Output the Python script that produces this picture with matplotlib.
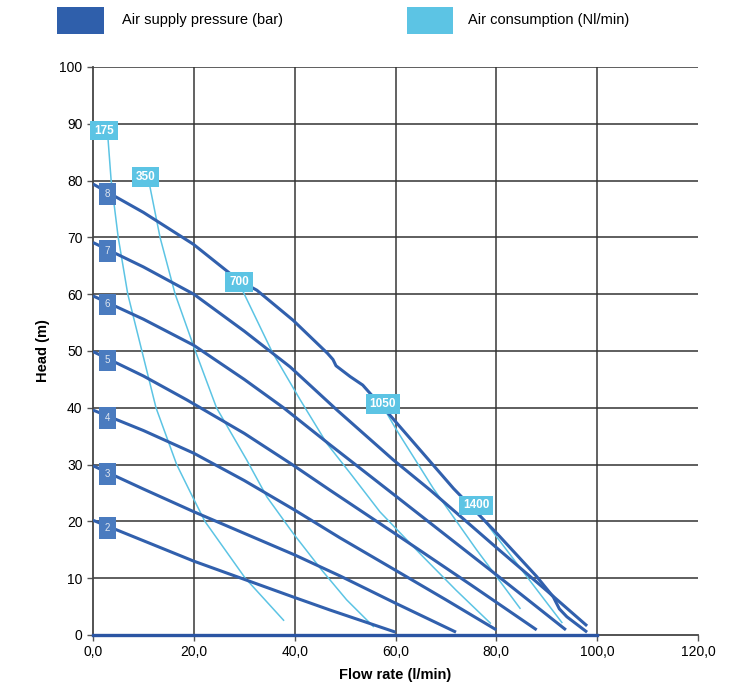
import matplotlib
matplotlib.use("Agg")
import matplotlib.pyplot as plt
import numpy as np
from matplotlib import font_manager
from matplotlib.patches import Rectangle

# pump curves: head (m) vs flow rate (l/min)
pressure_labels = ["2", "3", "4", "5", "6", "7", "8"]
flow_2 = [0, 10, 20, 30, 40, 47, 60]
head_2 = [20.2, 16.6, 13.0, 9.8, 6.6, 4.4, 0.5]
flow_3 = [0, 10, 20, 30, 40, 49, 60, 72]
head_3 = [29.8, 25.7, 21.7, 17.9, 14.1, 10.4, 5.6, 0.5]
flow_4 = [0, 10, 20, 30, 40, 49, 60, 70, 80]
head_4 = [39.6, 36.0, 32.0, 27.2, 22.0, 17.1, 11.4, 6.2, 0.9]
flow_5 = [0, 10, 18.6, 30, 39.7, 47, 60, 75, 88]
head_5 = [49.9, 45.6, 41.4, 35.5, 29.9, 25.5, 17.8, 8.8, 0.9]
flow_6 = [0, 10, 20, 30, 37.8, 47, 60, 80, 93.8]
head_6 = [59.7, 55.6, 51.0, 45.0, 40.0, 33.5, 24.5, 10.6, 0.9]
flow_7 = [0, 10, 20, 30, 39.1, 48.4, 59.6, 66.9, 80, 90, 98]
head_7 = [69.1, 64.8, 60.0, 53.5, 47.2, 39.6, 30.8, 25.5, 15.4, 7.8, 1.6]
flow_8 = [0, 10, 19.9, 28.8, 32.5, 39.7, 46.5, 47.6, 48.2, 51.0, 53.5, 55.0,
          58.9, 71.5, 80.1, 88.0, 91.3, 92.5, 94.0, 98.0]
head_8 = [79.4, 74.4, 68.8, 62.5, 60.7, 55.4, 49.6, 48.5, 47.4, 45.5, 44.0, 42.5,
          38.7, 25.8, 17.9, 10.3, 6.7, 4.6, 3.2, 0.5]

# air consumption iso-lines (Nl/min)
air_labels = ["175", "350", "700", "1050", "1400"]
flow_175 = [3.0, 3.6, 5.0, 6.9, 9.7, 12.5, 16.6, 19.6, 22.2, 26.2, 30.2, 37.8]
head_175 = [87.1, 80.0, 70.0, 60.0, 50.0, 40.0, 30.0, 24.6, 20.0, 15.0, 10.0, 2.6]
flow_350 = [11.3, 13.3, 16.3, 20.3, 24.5, 30.5, 34.5, 39.7, 45.4, 50.3, 55.6]
head_350 = [78.9, 70.0, 60.0, 50.0, 40.0, 30.8, 24.3, 17.9, 11.4, 6.2, 1.5]
flow_700 = [29.8, 35.5, 41.1, 46.4, 51.0, 56.9, 65.0, 72.0, 78.8]
head_700 = [60.4, 49.9, 41.4, 33.7, 28.5, 21.7, 14.2, 7.9, 2.1]
flow_1050 = [58.3, 60.2, 67.5, 76.0, 84.7]
head_1050 = [39.0, 36.1, 25.8, 15.1, 4.7]
flow_1400 = [76.8, 85.0, 93.0]
head_1400 = [21.1, 11.5, 2.2]

flow_zero = [0, 100]
head_zero = [0, 0]

x_ticks = [0, 20, 40, 60, 80, 100, 120]
y_ticks = [0, 10, 20, 30, 40, 50, 60, 70, 80, 90, 100]

DARK = "#3160ad"
DARK_BOX = "#4a7bbf"
LIGHT = "#5cc4e4"

installed = {f.name for f in font_manager.fontManager.ttflist}
narrow = "Liberation Sans Narrow" if "Liberation Sans Narrow" in installed else "Liberation Sans"
plt.rcParams["font.family"] = ["Liberation Sans", "DejaVu Sans"]

fig = plt.figure(figsize=(7.38, 6.87), dpi=100)
ax = fig.add_axes([93 / 738, 1 - 635 / 687, 605 / 738, 568 / 687])

pressure_curves = [(flow_2, head_2), (flow_3, head_3), (flow_4, head_4), (flow_5, head_5),
                   (flow_6, head_6), (flow_7, head_7), (flow_8, head_8)]
air_curves = [(flow_175, head_175), (flow_350, head_350), (flow_700, head_700),
              (flow_1050, head_1050), (flow_1400, head_1400)]

ax.set_xlim(0, 120)
ax.set_ylim(0, 100)
ax.set_xticks(x_ticks)
ax.set_yticks(y_ticks)
ax.set_xticklabels([f"{v:.1f}".replace(".", ",") for v in x_ticks], family=narrow, fontsize=10)
ax.set_yticklabels([str(v) for v in y_ticks], family=narrow, fontsize=10)
ax.tick_params(length=4, color="#555555", width=1)

for v in x_ticks[1:-1]:
    ax.axvline(v, color="#555555", lw=1.3, zorder=1)
for v in y_ticks[1:]:
    ax.axhline(v, color="#333333", lw=1.1, zorder=1)
for s in ["top", "right"]:
    ax.spines[s].set_visible(False)
for s in ["left", "bottom"]:
    ax.spines[s].set_color("#444444")
    ax.spines[s].set_linewidth(1.3)

for fx, hy in air_curves:
    ax.plot(fx, hy, color=LIGHT, lw=1.1, zorder=2)
for fx, hy in pressure_curves:
    ax.plot(fx, hy, color=DARK, lw=2.2, zorder=3, solid_capstyle="butt")
ax.plot(flow_zero, head_zero, color="#2b55a3", lw=2.4, zorder=4, clip_on=False)

# pressure tags sit on each curve near the y axis
for lab, (fx, hy) in zip(pressure_labels, pressure_curves):
    yv = np.interp(2.9, fx, hy)
    ax.text(2.9, yv - 0.3, lab, ha="center", va="center", fontsize=7, color="#dfe6f0",
            family=narrow, zorder=6,
            bbox=dict(boxstyle="square,pad=0.6", fc=DARK_BOX, ec="none"))

# air consumption tags at the top end of each line
for lab, (fx, hy) in zip(air_labels, air_curves):
    ax.annotate(lab, (fx[0], hy[0]), xytext=(-3, 7), textcoords="offset points",
                ha="center", va="center", fontsize=8.5, fontweight="bold", color="white",
                family=narrow, zorder=7,
                bbox=dict(boxstyle="square,pad=0.32", fc=LIGHT, ec="none"))

ax.set_xlabel("Flow rate (l/min)", fontsize=10.5, fontweight="bold", labelpad=6)
ax.set_ylabel("Head (m)", fontsize=10.5, fontweight="bold", labelpad=7)

# legend row along the top
fig.add_artist(Rectangle((57 / 738, 1 - 34 / 687), 47 / 738, 27 / 687,
                         transform=fig.transFigure, fc="#2f5fab", ec="none"))
fig.text(122 / 738, 1 - 20 / 687, "Air supply pressure (bar)", fontsize=10.5, va="center")
fig.add_artist(Rectangle((407 / 738, 1 - 34 / 687), 46 / 738, 27 / 687,
                         transform=fig.transFigure, fc=LIGHT, ec="none"))
fig.text(468 / 738, 1 - 20 / 687, "Air consumption (Nl/min)", fontsize=10.5, va="center")

fig.savefig("out.png", dpi=100)
